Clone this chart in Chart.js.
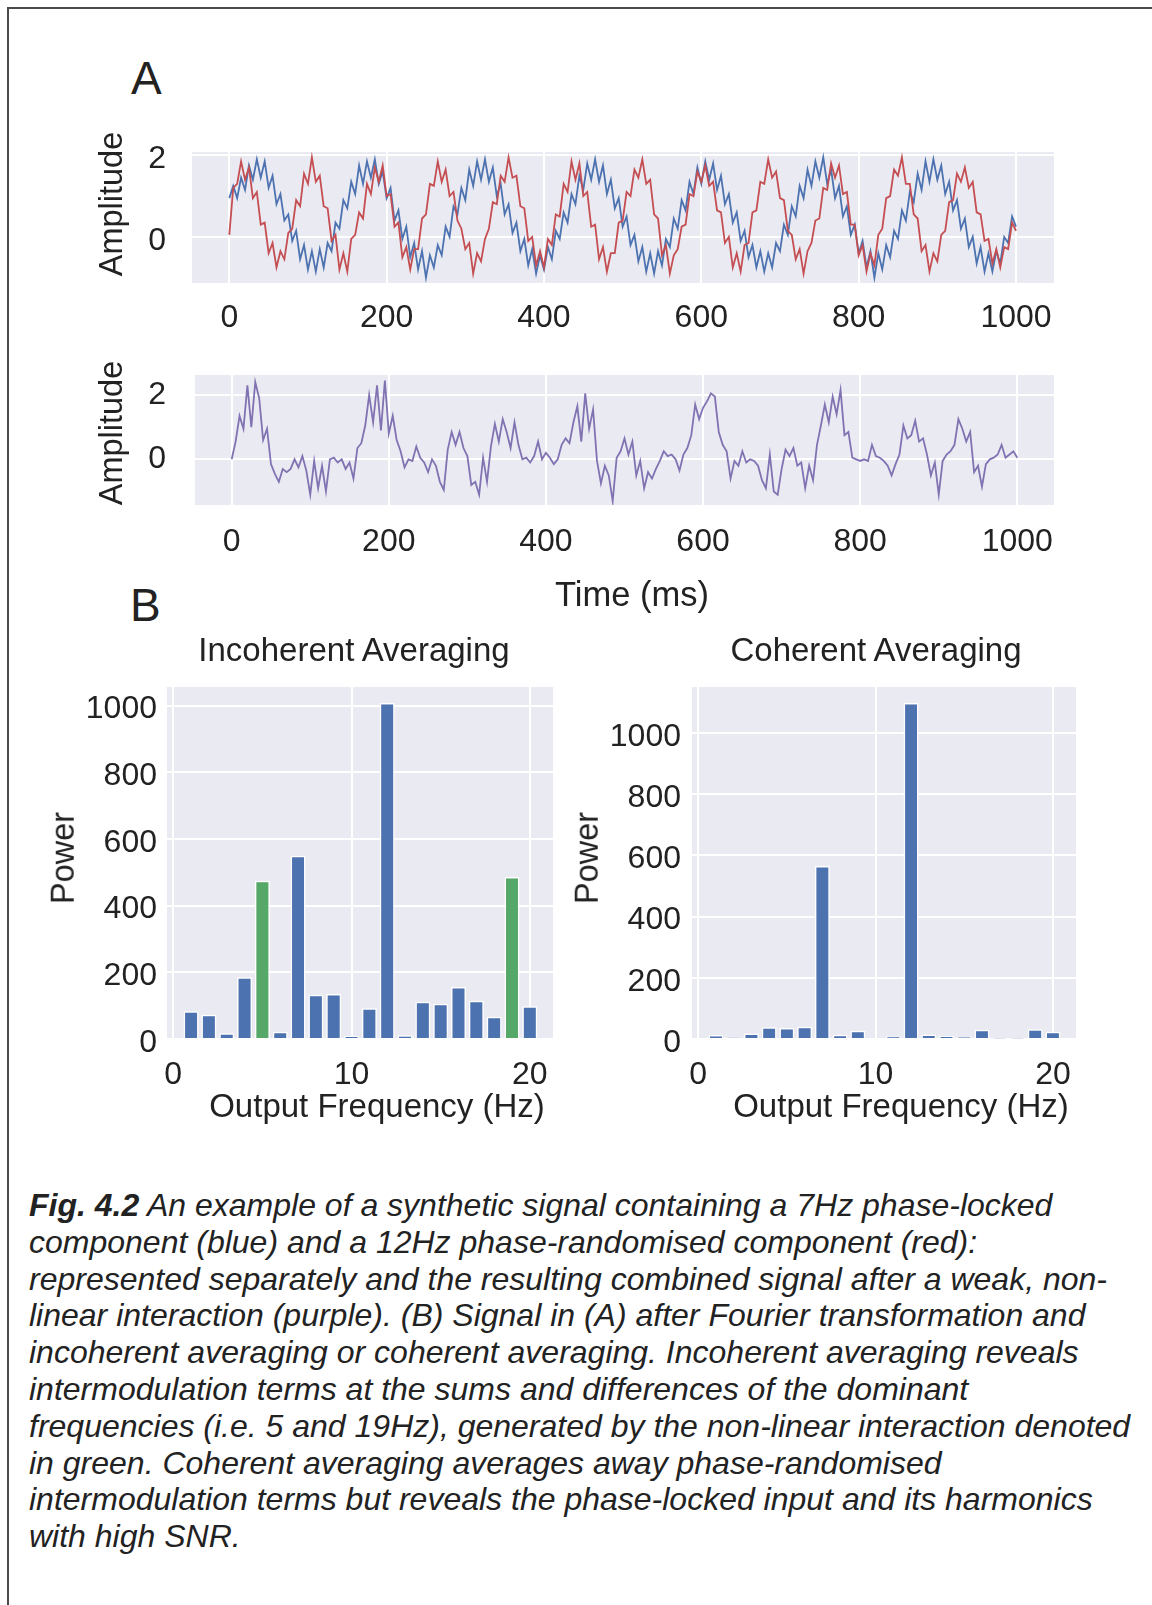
<!DOCTYPE html>
<html>
<head>
<meta charset="utf-8">
<title>Fig. 4.2</title>
<script src="https://cdn.jsdelivr.net/npm/chart.js@4.4.1/dist/chart.umd.min.js"></script>
<style>
  html, body { margin: 0; padding: 0; background: #fff; }
  body { position: relative; width: 1152px; height: 1605px; overflow: hidden;
         font-family: 'Liberation Sans', Arial, Helvetica, sans-serif; color: #222; }
  .frame { position: absolute; left: 7px; top: 7px; width: 1160px; height: 1620px;
           border-left: 2px solid #4a4a4a; border-top: 2px solid #4a4a4a; }
  .panel { position: absolute; }
  .letter { position: absolute; font-size: 46px; line-height: 46px; }
  .label { position: absolute; line-height: 1; white-space: nowrap; transform: translate(-50%, -50%); }
  .label.up { transform: translate(-50%, -50%) rotate(-90deg); }
  .caption { position: absolute; left: 29px; top: 1187px; font-size: 32px; line-height: 36.8px;
             font-style: italic; white-space: nowrap; }
</style>
</head>
<body>
<div class="frame"></div>
<div class="letter" style="left:131px; top:55px;">A</div>
<div class="letter" style="left:130px; top:582px;">B</div>

<div class="panel" style="left:95px; top:132px; width:965px; height:201px;"><canvas id="sepChart"></canvas></div>
<div class="panel" style="left:95px; top:355px; width:965px; height:258px;"><canvas id="mixChart"></canvas></div>
<div class="panel" style="left:44px; top:667px; width:516px; height:460px;"><canvas id="incoherentChart"></canvas></div>
<div class="panel" style="left:568px; top:667px; width:515px; height:460px;"><canvas id="coherentChart"></canvas></div>

<!-- axis and panel titles -->
<div class="label up" style="left:111px; top:204px; font-size:32.5px;">Amplitude</div>
<div class="label up" style="left:111px; top:433px; font-size:32.5px;">Amplitude</div>
<div class="label" style="left:632px; top:594px; font-size:34.5px;">Time (ms)</div>
<div class="label" style="left:354px; top:649px; font-size:33px;">Incoherent Averaging</div>
<div class="label" style="left:876px; top:649px; font-size:33px;">Coherent Averaging</div>
<div class="label up" style="left:63px; top:858px; font-size:32.5px;">Power</div>
<div class="label up" style="left:587px; top:858px; font-size:32.5px;">Power</div>
<div class="label" style="left:377px; top:1105px; font-size:33px;">Output Frequency (Hz)</div>
<div class="label" style="left:901px; top:1105px; font-size:33px;">Output Frequency (Hz)</div>

<div class="caption"><b>Fig. 4.2</b> An example of a synthetic signal containing a 7Hz phase-locked<br>
component (blue) and a 12Hz phase-randomised component (red):<br>
represented separately and the resulting combined signal after a weak, non-<br>
linear interaction (purple). (B) Signal in (A) after Fourier transformation and<br>
incoherent averaging or coherent averaging. Incoherent averaging reveals<br>
intermodulation terms at the sums and differences of the dominant<br>
frequencies (i.e. 5 and 19Hz), generated by the non-linear interaction denoted<br>
in green. Coherent averaging averages away phase-randomised<br>
intermodulation terms but reveals the phase-locked input and its harmonics<br>
with high SNR.</div>

<script>
// values, one sample every 5 ms
const SAMPLE_MS = 5;
const timeTicks = [0, 200, 400, 600, 800, 1000];
const ampTicks = [0, 2];
const freqTicks = [0, 10, 20];
const powerTicks = [0, 200, 400, 600, 800, 1000];

// 7Hz phase-locked component (blue)
const lockedSignal = [
  0.95, 1.25, 0.95, 1.45, 1.15, 1.75, 1.40, 1.90, 1.45, 1.85,
  1.20, 1.50, 0.80, 1.05, 0.40, 0.55, -0.10, 0.15, -0.55, -0.20,
  -0.80, -0.35, -0.85, -0.30, -0.75, -0.15, -0.35, 0.35, 0.20, 0.90,
  0.70, 1.35, 1.05, 1.75, 1.30, 1.85, 1.45, 1.90, 1.30, 1.60,
  0.95, 1.20, 0.40, 0.65, -0.05, 0.25, -0.50, -0.15, -0.80, -0.35,
  -1.00, -0.45, -0.75, -0.20, -0.45, 0.25, 0.00, 0.75, 0.55, 1.20,
  0.90, 1.65, 1.25, 1.85, 1.40, 1.90, 1.35, 1.70, 1.00, 1.30,
  0.55, 0.80, 0.10, 0.35, -0.35, -0.05, -0.70, -0.30, -0.90, -0.45,
  -0.80, -0.25, -0.55, 0.15, -0.05, 0.60, 0.35, 1.05, 0.80, 1.50,
  1.15, 1.80, 1.40, 1.90, 1.35, 1.75, 1.05, 1.40, 0.70, 0.95,
  0.25, 0.50, -0.20, 0.05, -0.60, -0.25, -0.85, -0.40, -0.90, -0.35,
  -0.70, -0.05, -0.25, 0.45, 0.20, 0.90, 0.65, 1.35, 1.05, 1.70,
  1.30, 1.85, 1.40, 1.80, 1.15, 1.50, 0.80, 1.05, 0.35, 0.60,
  -0.10, 0.15, -0.50, -0.20, -0.75, -0.35, -0.85, -0.40, -0.75, -0.15,
  -0.35, 0.30, 0.05, 0.75, 0.50, 1.25, 0.95, 1.65, 1.25, 1.85,
  1.45, 1.95, 1.30, 1.65, 0.95, 1.25, 0.50, 0.75, 0.05, 0.30,
  -0.40, -0.10, -0.75, -0.35, -1.00, -0.40, -0.80, -0.20, -0.50, 0.15,
  -0.05, 0.65, 0.40, 1.10, 0.85, 1.55, 1.15, 1.85, 1.35, 1.90,
  1.40, 1.75, 1.05, 1.35, 0.65, 0.90, 0.20, 0.45, -0.25, 0.00,
  -0.65, -0.25, -0.85, -0.40, -0.85, -0.35, -0.65, 0.00, -0.15, 0.50,
  0.25
];

// 12Hz phase-randomised component (red)
const randomSignal = [
  0.05, 1.20, 1.30, 1.85, 1.40, 1.70, 0.95, 1.10, 0.30, 0.35,
  -0.40, -0.15, -0.75, -0.35, -0.55, 0.10, 0.20, 0.90, 0.75, 1.55,
  1.30, 1.95, 1.35, 1.50, 0.75, 0.70, -0.10, 0.05, -0.80, -0.40,
  -0.85, -0.05, 0.05, 0.60, 0.45, 1.30, 1.05, 1.70, 1.35, 1.75,
  1.00, 1.05, 0.25, 0.35, -0.50, -0.25, -0.80, -0.30, -0.30, 0.45,
  0.55, 1.30, 1.25, 1.85, 1.35, 1.65, 1.00, 1.10, 0.40, 0.20,
  -0.30, -0.15, -0.90, -0.40, -0.60, -0.05, 0.20, 0.85, 0.80, 1.50,
  1.35, 1.95, 1.45, 1.50, 0.75, 0.70, -0.10, 0.00, -0.70, -0.35,
  -0.75, -0.05, -0.20, 0.55, 0.50, 1.30, 1.10, 1.85, 1.40, 1.80,
  1.00, 1.10, 0.25, 0.30, -0.55, -0.25, -0.85, -0.40, -0.40, 0.35,
  0.40, 1.10, 1.00, 1.65, 1.45, 1.90, 1.30, 1.40, 0.55, 0.45,
  -0.45, -0.20, -0.90, -0.45, -0.30, 0.25, 0.30, 1.05, 1.00, 1.60,
  1.35, 1.75, 1.25, 1.35, 0.65, 0.60, -0.15, 0.00, -0.75, -0.40,
  -0.85, -0.20, -0.15, 0.60, 0.65, 1.35, 1.30, 1.90, 1.45, 1.60,
  0.95, 0.90, 0.15, 0.05, -0.55, -0.30, -0.90, -0.35, -0.15, 0.40,
  0.45, 1.20, 1.15, 1.80, 1.45, 1.75, 1.05, 1.10, 0.30, 0.30,
  -0.45, -0.20, -0.85, -0.40, -0.70, 0.05, 0.20, 0.95, 1.00, 1.65,
  1.50, 1.95, 1.30, 1.30, 0.55, 0.45, -0.35, -0.20, -0.85, -0.40,
  -0.60, 0.05, 0.15, 0.85, 0.90, 1.55, 1.35, 1.70, 1.20, 1.35,
  0.60, 0.55, -0.10, -0.05, -0.65, -0.30, -0.75, -0.25, -0.30, 0.35,
  0.15
];

// combined signal after the weak non-linear interaction (purple)
const combinedSignal = [
  0.00, 0.55, 1.35, 0.95, 2.30, 1.00, 2.40, 1.90, 0.60, 0.95,
  -0.15, -0.45, -0.70, -0.30, -0.40, -0.30, 0.00, -0.25, 0.10, -0.35,
  -1.10, -0.05, -0.90, -0.20, -1.00, 0.00, 0.05, -0.10, 0.00, -0.30,
  -0.10, -0.60, 0.35, 0.50, 1.05, 2.00, 1.15, 2.30, 0.90, 2.45,
  0.80, 1.35, 0.60, 0.25, -0.25, 0.00, -0.05, 0.40, 0.05, -0.10,
  -0.40, 0.00, -0.20, -0.70, -0.95, 0.30, 0.85, 0.45, 0.85, 0.35,
  0.10, -0.80, -0.70, -1.10, 0.05, -0.70, 0.40, 1.10, 0.55, 1.25,
  0.85, 0.35, 1.15, 0.45, 0.00, 0.05, -0.10, 0.10, 0.55, 0.00,
  0.20, 0.05, -0.15, 0.00, 0.45, 0.65, 0.50, 1.15, 1.65, 0.55,
  2.05, 0.95, 1.55, -0.05, -0.75, -0.20, -0.50, -1.30, 0.05, 0.25,
  0.65, 0.15, 0.55, -0.50, -0.05, -0.90, -0.40, -0.60, -0.30, -0.05,
  0.25, 0.10, 0.15, 0.00, -0.35, 0.15, 0.35, 0.75, 1.70, 1.25,
  1.60, 1.80, 2.05, 1.95, 0.85, 0.45, 0.25, -0.60, -0.05, -0.20,
  0.25, -0.10, 0.00, -0.05, -0.20, -0.65, -0.90, 0.15, -1.00, -1.10,
  -0.30, 0.30, 0.10, 0.35, -0.20, -0.10, -0.90, -0.20, -0.65, 0.45,
  1.05, 1.70, 1.15, 1.95, 1.40, 2.15, 0.75, 0.85, 0.05, 0.00,
  -0.05, 0.00, -0.05, 0.45, 0.10, 0.05, -0.05, -0.20, -0.50, -0.15,
  0.15, 1.05, 0.65, 0.75, 1.20, 0.55, 0.65, 0.15, -0.50, -0.10,
  -1.10, -0.05, 0.15, 0.25, 0.45, 1.25, 0.95, 0.55, 0.85, -0.40,
  -0.20, -0.85, -0.15, 0.00, 0.05, 0.15, 0.45, 0.05, 0.15, 0.25,
  0.05
];

// output frequencies (Hz) and power spectra
const freqs = [1, 2, 3, 4, 5, 6, 7, 8, 9, 10, 11, 12, 13, 14, 15, 16, 17, 18, 19, 20];
const incoherentPower = [83, 73, 17, 185, 475, 22, 550, 133, 135, 9, 92, 1008, 11, 112, 106, 156, 115, 67, 486, 98];
const coherentPower = [13, 5, 18, 38, 36, 40, 565, 14, 27, 3, 8, 1098, 15, 10, 7, 30, 1, 1, 32, 24];
const intermodFreqs = [5, 19];

const BLUE = '#4C72B0';
const RED = '#C44E52';
const GREEN = '#55A868';
const PURPLE = '#8172B2';
const TEXT = '#222';

Chart.defaults.font.family = "'Liberation Sans', Arial, Helvetica, sans-serif";
Chart.defaults.font.size = 32;
Chart.defaults.color = TEXT;

// seaborn-style grey plot background
const panelBg = {
  id: 'panelBg',
  beforeDraw(chart) {
    const { ctx, chartArea: a } = chart;
    ctx.save();
    ctx.fillStyle = '#EAEAF2';
    ctx.fillRect(a.left, a.top, a.right - a.left, a.bottom - a.top);
    ctx.restore();
  }
};

// fixed-size axis so the plot areas line up with the figure
function makeAxis(min, max, tickValues, thickness, padding, labelOffset) {
  return {
    type: 'linear',
    min: min,
    max: max,
    offset: false,
    grid: { color: '#ffffff', lineWidth: 2, drawTicks: false, offset: false },
    border: { display: false },
    ticks: { padding: padding, labelOffset: labelOffset || 0, color: TEXT,
             maxRotation: 0, autoSkip: false, callback: v => String(v) },
    afterBuildTicks: s => { s.ticks = tickValues.map(v => ({ value: v })); },
    afterFit: s => {
      if (s.isHorizontal()) {
        s.height = thickness; s.paddingLeft = 0; s.paddingRight = 0;
      } else {
        s.width = thickness; s.paddingTop = 0; s.paddingBottom = 0;
      }
    }
  };
}

const baseOptions = {
  responsive: true,
  maintainAspectRatio: false,
  animation: false,
  events: [],
  plugins: { legend: { display: false }, tooltip: { enabled: false } }
};

const timeMs = lockedSignal.map((_, i) => i * SAMPLE_MS);
const toPoints = values => values.map((y, i) => ({ x: timeMs[i], y: y }));

function lineSet(values, color, order) {
  return { data: toPoints(values), borderColor: color, borderWidth: 1.8, pointRadius: 0, tension: 0, order: order };
}

// A, top: the two components
new Chart(document.getElementById('sepChart'), {
  type: 'line',
  data: { datasets: [lineSet(randomSignal, RED, 1), lineSet(lockedSignal, BLUE, 2)] },
  options: Object.assign({}, baseOptions, {
    layout: { padding: { top: 20, right: 6, left: 0, bottom: 0 } },
    scales: {
      x: makeAxis(-47.4, 1048.3, timeTicks, 50, 16),
      y: makeAxis(-1.13, 2.08, ampTicks, 97, 26, 4)
    }
  }),
  plugins: [panelBg]
});

// A, bottom: combined signal
new Chart(document.getElementById('mixChart'), {
  type: 'line',
  data: { datasets: [lineSet(combinedSignal, PURPLE, 1)] },
  options: Object.assign({}, baseOptions, {
    layout: { padding: { top: 20, right: 6, left: 0, bottom: 0 } },
    scales: {
      x: makeAxis(-46.7, 1046.7, timeTicks, 108, 18),
      y: makeAxis(-1.42, 2.62, ampTicks, 100, 29)
    }
  }),
  plugins: [panelBg]
});

// B: power spectra
function powerChart(id, values, greens, yMax, yWidth, yPad) {
  new Chart(document.getElementById(id), {
    type: 'bar',
    data: {
      datasets: [{
        data: freqs.map((f, i) => ({ x: f, y: values[i] })),
        backgroundColor: freqs.map(f => greens.includes(f) ? GREEN : BLUE),
        borderColor: '#ffffff',
        borderWidth: 1.5,
        barPercentage: 0.84,
        categoryPercentage: 1
      }]
    },
    options: Object.assign({}, baseOptions, {
      layout: { padding: { top: 20, right: 7, left: 0, bottom: 0 } },
      scales: {
        x: makeAxis(-0.35, 21.3, freqTicks, 88, 17),
        y: makeAxis(0, yMax, powerTicks, yWidth, yPad, 4)
      }
    }),
    plugins: [panelBg]
  });
}

powerChart('incoherentChart', incoherentPower, intermodFreqs, 1056, 123, 10);
powerChart('coherentChart', coherentPower, [], 1150, 124, 11);
</script>
</body>
</html>
